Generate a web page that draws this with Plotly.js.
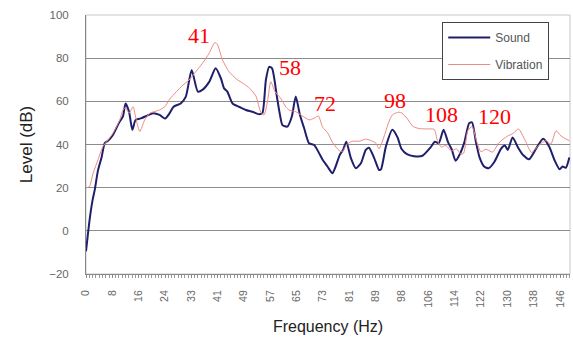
<!DOCTYPE html>
<html>
<head>
<meta charset="utf-8">
<script src="https://cdn.plot.ly/plotly-3.0.1.min.js"></script>
<style>html,body{margin:0;padding:0;background:#fff;}#chart{width:573px;height:340px;}</style>
</head>
<body>
<div id="chart"></div>
<script>
// ---- data ----
const soundHz = [0,1.1,2.0,2.7,3.7,4.8,5.8,6.8,8.3,9.5,10.4,11.4,12.2,13.3,14.3,15.3,17.1,19.0,20.7,22.7,24.4,25.8,27.0,29.2,30.8,32.6,34.5,35.9,38.0,40.0,41.6,42.6,43.6,45.2,47.2,49.3,51.3,53.4,54.4,55.5,56.5,57.4,58.9,59.8,60.6,62.1,63.5,64.7,66.0,67.3,68.8,70.4,71.9,73.0,74.5,76.0,77.0,78.3,79.3,80.3,81.7,83.2,84.8,86.3,87.3,88.9,90.4,91.0,92.5,94.5,96.1,97.3,99.0,101.2,103.8,106.2,107.6,108.8,110.3,111.7,112.8,114.0,115.3,116.7,118.2,119.1,120.3,121.4,122.8,124.2,126.0,128.0,129.2,130.1,131.6,133.3,134.9,136.7,138.8,141.0,142.9,144.6,146.1,147.0,148.0,149.1];
const soundDb = [-9.5,5,14,19,28,34,40.7,41.7,44.4,48,50.6,53,59,55,46.8,51.4,52.2,53.5,54.5,53.7,52.0,54.5,57.5,59,62.2,74.5,64.5,65.3,69,75.3,70.7,66,64.5,59,57.5,56,55.2,54,54.5,70,76,75.3,62,54,49,48.3,53,62.2,53.7,47.5,40.6,39.8,36,32.9,29.8,26.7,29.8,35.2,37.5,41.3,33.7,29,31.3,37.5,38.5,33.7,28.2,28.5,39,46.8,43.3,38,35.5,34.6,34.8,38.5,41.3,40.6,46.8,41,37.8,32.5,35.5,41,49.9,50.2,41,34,29.8,29,32,38,39.5,37.5,43.3,38.5,35,33.2,38,42.7,39,32.5,28.5,29.8,29.2,34];

const vibHz = [0,0.6,1.1,2.2,3.7,5.2,6.8,8.3,10.4,11.4,12.2,13.3,14.5,15.5,16.6,18.1,19.7,22.7,24.3,25.8,27.9,29.9,31.8,33.9,35.9,38.0,39.7,40.5,42.1,44.1,46.5,48.5,50.5,52.4,53.9,54.9,56.0,57.0,58.3,60.0,61.6,62.6,64.7,66.3,68.8,70.4,71.7,73.0,74.5,76.2,78.1,79.1,80.4,82.2,84.3,86.3,87.6,89.4,90.4,92.0,93.3,94.5,96.5,97.5,99.0,100.9,102.8,105.0,107.4,108.4,109.6,111.0,112.7,114.3,115.6,116.5,117.8,119.1,120.5,121.8,123.4,125.4,127.5,129.8,131.8,133.4,135.5,137.4,139.8,141.9,143.4,145.0,146.5,148.0,149.1];
const vibDb = [19.8,20.2,20.5,26.7,32.9,39,42.1,45.2,51.4,56,57,54.5,57.5,51.4,46,51.4,54.5,56,57.5,61,64.5,67.5,69.9,73.8,77.6,82.3,87.2,86.5,79.2,73.8,70.2,68.3,66,62.5,55,53.7,60,69.1,64.5,61.5,57.5,56,55.2,53.7,51.4,52.2,53.2,48,45.5,40.6,37.2,36.7,40,41.5,41.5,42.5,42,40.6,38,44,50,53.7,55,54.5,52.2,48.3,47.4,47.2,47,41.8,38.8,39.6,37,38,35.5,36,46.5,48.3,41.5,36.7,37.8,36.5,41,43.7,45.2,47.2,41.8,36.3,39.8,41.8,40.2,46.4,44,42.6,41.8];

// category tick labels (one every 8 frequency bins)
const tickLabels = ['0','8','16','24','33','41','49','57','65','73','81','89','98','106','114','122','130','138','146'];
const binHz = 1.015625;

// peak annotations
const peakLabels = ['41','58','72','98','108','120'];
const peakAtHz = [34.9, 62.9, 73.8, 95.4, 109.6, 125.9];
const peakAtDb = [90.3, 75.9, 58.8, 60.2, 53.7, 53.2];

const tickVals = tickLabels.map((_, i) => i * 8 * binHz);

const traces = [
  {x: soundHz, y: soundDb, name: 'Sound', type: 'scatter', mode: 'lines',
   line: {color: '#1f1f6b', width: 2, shape: 'spline', smoothing: 0.6}, legendgroup: 'a'},
  {x: vibHz, y: vibDb, name: 'Vibration', type: 'scatter', mode: 'lines',
   line: {color: '#ec8a84', width: 1, shape: 'spline', smoothing: 0.6}, legendgroup: 'b'}
];

const annotations = peakLabels.map((t, i) => ({
  x: peakAtHz[i], y: peakAtDb[i], xref: 'x', yref: 'y', text: t, showarrow: false,
  font: {family: 'Liberation Serif, serif', size: 22, color: '#ff0000'}
}));

const layout = {
  width: 573, height: 340,
  margin: {l: 86, r: 3, t: 15, b: 66},
  paper_bgcolor: '#ffffff', plot_bgcolor: '#ffffff',
  font: {family: 'Liberation Sans, Arial, sans-serif', color: '#555'},
  showlegend: true,
  legend: {x: 0.736, y: 0.973, xanchor: 'left', yanchor: 'top',
    bgcolor: '#ffffff', bordercolor: '#444', borderwidth: 1,
    font: {size: 12, color: '#555'}, tracegroupgap: 8, itemwidth: 42},
  xaxis: {
    range: [0, 149.3], tickmode: 'array', tickvals: tickVals, ticktext: tickLabels,
    tickangle: -90, tickfont: {size: 10.5, color: '#666'},
    showgrid: false, zeroline: false, showline: true, linecolor: '#888', linewidth: 1,
    ticks: 'outside', ticklen: 3, tickcolor: '#888', ticklabelstandoff: 8,
    minor: {dtick: binHz, tick0: 0, ticks: 'outside', ticklen: 3, tickcolor: '#999', showgrid: false},
    title: {text: 'Frequency (Hz)', font: {size: 16, color: '#222'}, standoff: 14}
  },
  yaxis: {
    range: [-20, 100], dtick: 20, tick0: 0,
    tickfont: {size: 11.5, color: '#666'},
    showgrid: true, gridcolor: '#8c8c8c', gridwidth: 1,
    zeroline: false, showline: true, linecolor: '#888', linewidth: 1,
    ticks: '', ticklabelstandoff: 14,
    title: {text: 'Level (dB)', font: {size: 17, color: '#222'}, standoff: 12}
  },
  shapes: [
    {type: 'rect', xref: 'paper', yref: 'paper', x0: 0, x1: 1, y0: 0, y1: 1,
     line: {color: '#c8c8c8', width: 1}, layer: 'below'}
  ],
  annotations: annotations
};

Plotly.newPlot('chart', traces, layout, {displayModeBar: false, staticPlot: true});
</script>
</body>
</html>
